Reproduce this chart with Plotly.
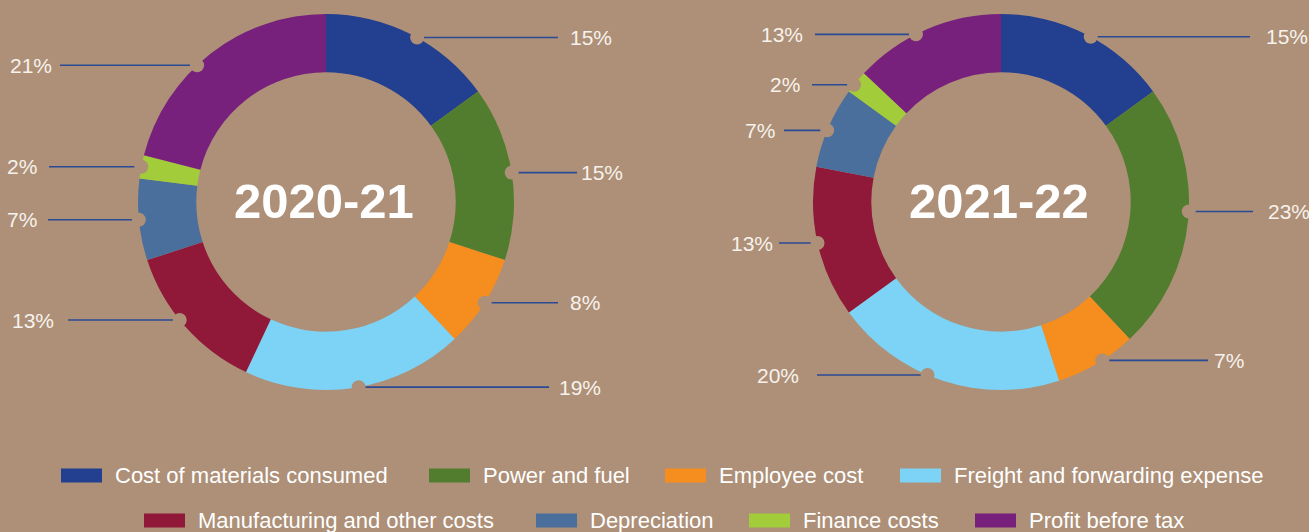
import math
import plotly.graph_objects as go

# ---------------- data ----------------
categories = [
    "Cost of materials consumed",
    "Power and fuel",
    "Employee cost",
    "Freight and forwarding expense",
    "Manufacturing and other costs",
    "Depreciation",
    "Finance costs",
    "Profit before tax",
]
values_2020_21 = [15, 15, 8, 19, 13, 7, 2, 21]
values_2021_22 = [15, 23, 7, 20, 13, 7, 2, 13]
years = ["2020-21", "2021-22"]

# ---------------- styles / layout ----------------
colors = ["#233F8F", "#527D2F", "#F68D1F", "#7DD3F6",
          "#901838", "#4A6F9C", "#A2CC3A", "#77217D"]
BG = "#AD9077"
LINE_COLOR = "#2B4A96"
W, H = 1309, 532
centers = [(326, 202), (1001, 202)]   # pixel centres of the donuts
R_OUT = 188
HOLE = 0.69
DOT_R = 7
FONT = "Liberation Sans, Arial, sans-serif"

# small angular nudges (degrees) of the leader anchor from the slice midpoint
leader_nudge = [[2, 0, 0, -1, 2.5, 0, 0, -5.5],
                [1.5, -2.5, -2, 5, 0, -1, -1, -3.5]]
# label anchor x and leader-line end x (pixels), per chart, per category
label_x = [[568, 579, 568, 557, 56, 39, 39, 54],
           [1264, 1266, 1212, 801, 775, 777, 802, 805]]
line_end_x = [[558, 577, 558, 549, 68, 48, 49, 60],
              [1250, 1253, 1208, 817, 779, 784, 812, 815]]

# legend layout (pixels)
legend_text_x = [115, 483, 719, 954, 198, 590, 803, 1029]
legend_row_y = [475.5, 520.5]
SW_W, SW_H, SW_GAP = 41, 14, 13


def px(x):
    return x / W


def py(y):
    return 1 - y / H


fig = go.Figure()
shapes = []
annotations = []
series = [values_2020_21, values_2021_22]

for ci, (vals, year, (cx, cy)) in enumerate(zip(series, years, centers)):
    fig.add_trace(go.Pie(
        labels=categories, values=vals, hole=HOLE, sort=False,
        direction="clockwise", rotation=0,
        marker=dict(colors=colors, line=dict(width=0)),
        textinfo="none", hoverinfo="label+percent", showlegend=False,
        domain=dict(x=[px(cx - R_OUT), px(cx + R_OUT)],
                    y=[py(cy + R_OUT), py(cy - R_OUT)]),
    ))
    annotations.append(dict(
        x=px(cx - 2), y=py(cy - 1), xref="paper", yref="paper",
        text="<b>%s</b>" % year, showarrow=False,
        xanchor="center", yanchor="middle",
        font=dict(family=FONT, size=49, color="white"),
    ))
    total = float(sum(vals))
    cum = 0.0
    lines, dots = [], []
    for i, v in enumerate(vals):
        mid = (cum + v / 2.0) / total * 360.0
        cum += v
        right = mid < 180
        a = math.radians(mid + leader_nudge[ci][i])
        dx = cx + R_OUT * math.sin(a)
        dy = cy - R_OUT * math.cos(a)
        ex = line_end_x[ci][i]
        lines.append(dict(type="line", xref="paper", yref="paper",
                          x0=px(dx), y0=py(dy), x1=px(ex), y1=py(dy),
                          line=dict(color=LINE_COLOR, width=1.6), layer="above"))
        dots.append(dict(type="circle", xref="paper", yref="paper",
                         x0=px(dx - DOT_R), x1=px(dx + DOT_R),
                         y0=py(dy + DOT_R), y1=py(dy - DOT_R),
                         fillcolor=BG, line=dict(width=0), layer="above"))
        annotations.append(dict(
            x=px(label_x[ci][i]), y=py(dy), xref="paper", yref="paper",
            text="%d%%" % v, showarrow=False,
            xanchor="left" if right else "right", yanchor="middle",
            font=dict(family=FONT, size=21, color="#F7F2EC"),
        ))
    shapes.extend(lines)
    shapes.extend(dots)

# manual legend
for i, (name, col) in enumerate(zip(categories, colors)):
    row = 0 if i < 4 else 1
    ty = legend_row_y[row]
    tx = legend_text_x[i]
    sx1 = tx - SW_GAP
    sx0 = sx1 - SW_W
    shapes.append(dict(type="rect", xref="paper", yref="paper",
                       x0=px(sx0), x1=px(sx1),
                       y0=py(ty + SW_H / 2), y1=py(ty - SW_H / 2),
                       fillcolor=col, line=dict(width=0), layer="above"))
    annotations.append(dict(
        x=px(tx - 2), y=py(ty), xref="paper", yref="paper",
        text=name, showarrow=False, xanchor="left", yanchor="middle",
        font=dict(family=FONT, size=22, color="white"),
    ))

fig.update_layout(
    width=W, height=H, autosize=False,
    margin=dict(l=0, r=0, t=0, b=0),
    paper_bgcolor=BG, plot_bgcolor=BG,
    shapes=shapes, annotations=annotations,
    showlegend=False,
)

fig.write_html(
    "out.html",
    config={"displayModeBar": False},
    post_script="document.body.style.margin='0';document.body.style.background='%s';" % BG,
)
